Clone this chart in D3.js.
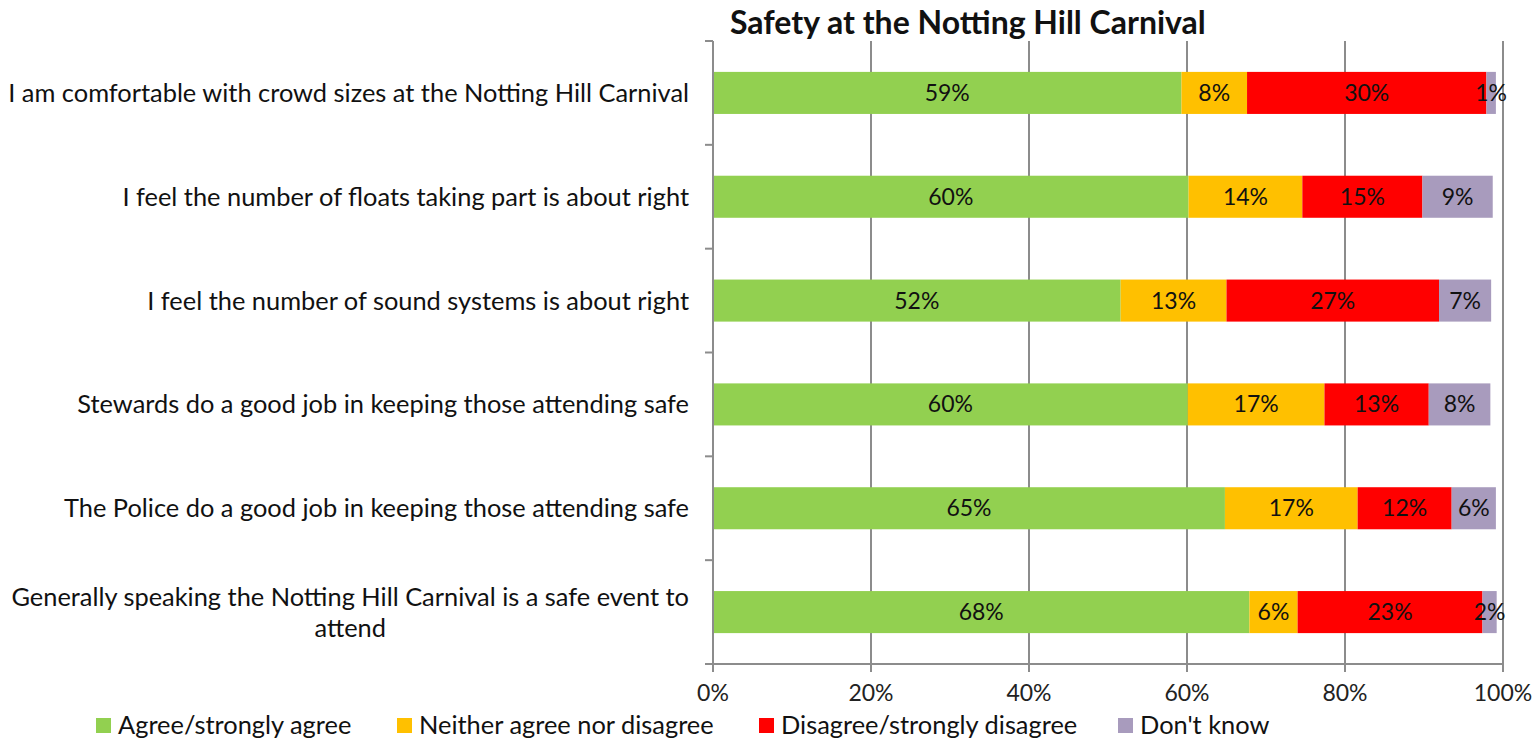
<!DOCTYPE html>
<html><head><meta charset="utf-8">
<script src="https://cdn.jsdelivr.net/npm/d3@7"></script>
<style>body{margin:0;background:#fff}svg{display:block}</style>
</head><body>
<svg id="c" width="1534" height="738"></svg>
<script>
const title = "Safety at the Notting Hill Carnival";
const categories = [
  "I am comfortable with crowd sizes at the Notting Hill Carnival",
  "I feel the number of floats taking part is about right",
  "I feel the number of sound systems is about right",
  "Stewards do a good job in keeping those attending safe",
  "The Police do a good job in keeping those attending safe",
  "Generally speaking the Notting Hill Carnival is a safe event to attend"
];
const seriesNames = ["Agree/strongly agree", "Neither agree nor disagree", "Disagree/strongly disagree", "Don't know"];
const seriesColors = ["#92D050", "#FFC000", "#FF0000", "#A89BBD"];
const agree    = [59.3, 60.2, 51.6, 60.1, 64.8, 67.9];
const neither  = [8.3, 14.4, 13.4, 17.3, 16.8, 6.1];
const disagree = [30.3, 15.2, 26.9, 13.2, 11.9, 23.4];
const dontKnow = [1.2, 8.9, 6.6, 7.8, 5.6, 1.8];
const xTicks = [0, 20, 40, 60, 80, 100];
const xTickLabels = ["0%", "20%", "40%", "60%", "80%", "100%"];

const FONT = "Lato, 'Open Sans', sans-serif";
const svg = d3.select("#c");
const pLeft = 713, pRight = 1503, pTop = 41, pBottom = 664;
const x = d3.scaleLinear().domain([0, 100]).range([pLeft, pRight]);
const y = d3.scaleBand().domain(categories).range([pTop, pBottom]).paddingInner(0.595).paddingOuter(0.2975);

const keys = [0, 1, 2, 3];
const stackData = categories.map((c, i) => ({cat: c, 0: agree[i], 1: neither[i], 2: disagree[i], 3: dontKnow[i]}));
const stacked = d3.stack().keys(keys)(stackData);

const gridColor = "#8c8c8c";
// gridlines
svg.append("g").selectAll("line").data(xTicks.slice(1)).join("line")
  .attr("x1", d => x(d)).attr("x2", d => x(d)).attr("y1", pTop).attr("y2", pBottom)
  .attr("stroke", gridColor).attr("stroke-width", 2);

// bars
const sg = svg.append("g").selectAll("g").data(stacked).join("g").attr("fill", (d, i) => seriesColors[i]);
sg.selectAll("rect").data(d => d).join("rect")
  .attr("x", d => x(d[0])).attr("width", d => x(d[1]) - x(d[0]))
  .attr("y", d => y(d.data.cat)).attr("height", y.bandwidth());

// data labels
const lg = svg.append("g").attr("font-family", FONT).attr("font-size", 23).attr("fill", "#111").attr("text-anchor", "middle");
stacked.forEach(s => {
  lg.selectAll(null).data(s).join("text")
    .attr("x", d => (x(d[0]) + x(d[1])) / 2)
    .attr("y", d => y(d.data.cat) + y.bandwidth() / 2 + 8)
    .text(d => Math.round(d[1] - d[0]) + "%");
});

// left axis
const ya = svg.append("g").attr("stroke", gridColor).attr("stroke-width", 2);
ya.append("line").attr("x1", pLeft).attr("x2", pLeft).attr("y1", pTop).attr("y2", pBottom);
const bounds = categories.map(c => y(c) - y.step() * y.paddingInner() / 2).concat([pBottom]);
ya.selectAll(null).data(bounds).join("line")
  .attr("x1", pLeft - 8).attr("x2", pLeft).attr("y1", d => d).attr("y2", d => d);
// bottom axis
const xa = svg.append("g").attr("stroke", gridColor).attr("stroke-width", 2);
xa.append("line").attr("x1", pLeft).attr("x2", pRight).attr("y1", pBottom).attr("y2", pBottom);
xa.selectAll(null).data(xTicks).join("line")
  .attr("x1", d => x(d)).attr("x2", d => x(d)).attr("y1", pBottom).attr("y2", pBottom + 8);
svg.append("g").attr("font-family", FONT).attr("font-size", 23).attr("fill", "#222").attr("text-anchor", "middle")
  .selectAll("text").data(xTicks).join("text")
  .attr("x", d => x(d)).attr("y", 701).text((d, i) => xTickLabels[i]);

// category labels
const cg = svg.append("g").attr("font-family", FONT).attr("font-size", 25.4).attr("fill", "#111");
const labelRight = 689, maxW = 690;
categories.forEach(c => {
  const cy = y(c) + y.bandwidth() / 2;
  const words = c.split(" ");
  const t = cg.append("text").attr("text-anchor", "end").attr("x", labelRight).attr("y", cy + 9).text(c);
  if (t.node().getComputedTextLength() > maxW) {
    t.remove();
    let lines = [], cur = "";
    const probe = cg.append("text");
    words.forEach(w => {
      const test = cur ? cur + " " + w : w;
      probe.text(test);
      if (probe.node().getComputedTextLength() > maxW && cur) { lines.push(cur); cur = w; } else cur = test;
    });
    lines.push(cur);
    const w0 = Math.max(...lines.map(l => { probe.text(l); return probe.node().getComputedTextLength(); }));
    probe.remove();
    const cx = labelRight - w0 / 2, lh = 31;
    lines.forEach((l, j) => {
      cg.append("text").attr("text-anchor", "middle").attr("x", cx)
        .attr("y", cy + 9 + (j - (lines.length - 1) / 2) * lh).text(l);
    });
  }
});

// title
svg.append("text").attr("x", 730).attr("y", 34).attr("font-family", FONT).attr("font-weight", "bold")
  .attr("font-size", 32).attr("fill", "#111").text(title);

// legend
const legX = [96, 397, 759, 1118];
const leg = svg.append("g").attr("font-family", FONT).attr("font-size", 25.4).attr("fill", "#111");
seriesNames.forEach((n, i) => {
  leg.append("rect").attr("x", legX[i]).attr("y", 718).attr("width", 15).attr("height", 15).attr("fill", seriesColors[i]);
  leg.append("text").attr("x", legX[i] + 22).attr("y", 734).text(n);
});
</script>
</body></html>
